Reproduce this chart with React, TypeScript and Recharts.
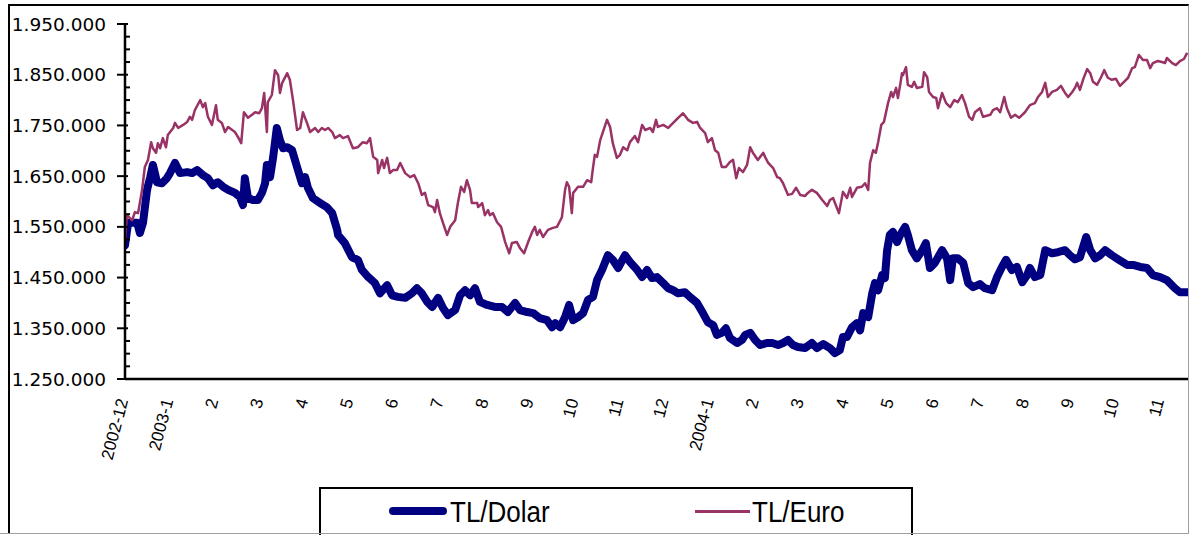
import React from 'react';
import { LineChart, Line, XAxis, YAxis } from 'recharts';

// Month tick labels (month index 0 = December 2002)
const monthLabels = [
  '2002-12', '2003-1', '2', '3', '4', '5', '6', '7', '8', '9', '10', '11', '12',
  '2004-1', '2', '3', '4', '5', '6', '7', '8', '9', '10', '11',
];

// TL/Dolar: position in months since 2002-12, rate in thousand TL
const dolarMonths = [
  0.00, 0.07, 0.16, 0.27, 0.33, 0.40, 0.49, 0.56, 0.62, 0.71, 0.82, 0.93, 1.00, 1.11, 1.22, 1.38, 1.49, 1.60, 1.73, 1.84,
  1.95, 2.06, 2.18, 2.29, 2.44, 2.55, 2.62, 2.66, 2.73, 2.84, 2.95, 3.04, 3.11, 3.15, 3.22, 3.29, 3.37, 3.44, 3.51, 3.60,
  3.71, 3.82, 3.93, 4.00, 4.06, 4.17, 4.33, 4.48, 4.60, 4.71, 4.73, 4.88, 5.04, 5.17, 5.26, 5.40, 5.55, 5.66, 5.82, 5.93,
  6.06, 6.22, 6.37, 6.48, 6.59, 6.71, 6.82, 6.95, 7.06, 7.17, 7.33, 7.44, 7.55, 7.66, 7.77, 7.88, 8.04, 8.21, 8.37, 8.50,
  8.66, 8.77, 8.93, 9.06, 9.21, 9.37, 9.48, 9.55, 9.66, 9.77, 9.86, 9.95, 10.06, 10.17, 10.28, 10.39, 10.48, 10.59, 10.72, 10.83,
  10.95, 11.10, 11.21, 11.37, 11.48, 11.59, 11.70, 11.81, 11.95, 12.06, 12.17, 12.28, 12.43, 12.54, 12.70, 12.83, 12.94, 13.06, 13.14, 13.25,
  13.34, 13.43, 13.59, 13.70, 13.77, 13.88, 13.99, 14.10, 14.25, 14.37, 14.50, 14.61, 14.72, 14.83, 14.94, 15.10, 15.25, 15.36, 15.50, 15.65,
  15.76, 15.87, 15.94, 16.03, 16.14, 16.25, 16.32, 16.39, 16.50, 16.59, 16.65, 16.72, 16.81, 16.87, 16.92, 16.98, 17.05, 17.14, 17.21, 17.32,
  17.38, 17.47, 17.58, 17.70, 17.78, 17.87, 17.98, 18.14, 18.25, 18.32, 18.38, 18.49, 18.61, 18.72, 18.83, 18.98, 19.09, 19.25, 19.36, 19.47,
  19.56, 19.69, 19.80, 19.92, 20.03, 20.09, 20.20, 20.32, 20.43, 20.58, 20.71, 20.87, 20.98, 21.09, 21.20, 21.34, 21.43, 21.54, 21.65, 21.76,
  21.91, 22.05, 22.25, 22.38, 22.54, 22.69, 22.82, 22.98, 23.13, 23.31, 23.42, 23.58,
];
const dolarValues = [
  1514, 1558, 1558, 1558, 1538, 1558, 1623, 1648, 1672, 1638, 1636, 1646, 1656, 1676, 1656, 1658, 1656, 1662, 1652, 1646,
  1632, 1638, 1629, 1623, 1617, 1609, 1593, 1646, 1607, 1603, 1603, 1617, 1636, 1672, 1648, 1688, 1745, 1721, 1705, 1707,
  1701, 1668, 1636, 1648, 1627, 1607, 1597, 1589, 1577, 1544, 1534, 1518, 1490, 1485, 1465, 1451, 1439, 1419, 1435, 1415,
  1412, 1410, 1419, 1429, 1419, 1402, 1392, 1410, 1390, 1376, 1386, 1415, 1425, 1415, 1429, 1402, 1396, 1392, 1392, 1382,
  1400, 1386, 1382, 1380, 1370, 1366, 1352, 1360, 1352, 1372, 1396, 1366, 1372, 1380, 1406, 1412, 1445, 1465, 1494, 1485,
  1469, 1494, 1481, 1465, 1451, 1465, 1449, 1451, 1439, 1429, 1425, 1419, 1421, 1412, 1400, 1380, 1362, 1356, 1337, 1341,
  1350, 1331, 1321, 1327, 1337, 1341, 1327, 1317, 1321, 1321, 1317, 1321, 1327, 1317, 1313, 1311, 1321, 1311, 1319, 1311,
  1301, 1307, 1333, 1333, 1352, 1360, 1346, 1380, 1372, 1419, 1439, 1425, 1455, 1449, 1504, 1534, 1540, 1520, 1534, 1550,
  1534, 1504, 1488, 1504, 1518, 1469, 1479, 1504, 1488, 1445, 1488, 1488, 1479, 1439, 1431, 1437, 1429, 1425, 1451, 1471,
  1485, 1465, 1471, 1441, 1455, 1469, 1451, 1455, 1504, 1498, 1500, 1504, 1494, 1486, 1490, 1530, 1504, 1488, 1494, 1504,
  1494, 1486, 1475, 1475, 1471, 1469, 1455, 1451, 1445, 1429, 1421, 1421,
];

// TL/Euro: position in months since 2002-12, rate in thousand TL
const euroMonths = [
  0.00, 0.04, 0.16, 0.22, 0.29, 0.38, 0.44, 0.51, 0.58, 0.62, 0.69, 0.73, 0.78, 0.84, 0.91, 0.95, 1.07, 1.11, 1.18, 1.29,
  1.38, 1.44, 1.49, 1.55, 1.67, 1.73, 1.78, 1.84, 1.93, 2.02, 2.06, 2.15, 2.22, 2.29, 2.38, 2.44, 2.51, 2.58, 2.64, 2.73,
  2.82, 2.89, 2.98, 3.04, 3.09, 3.15, 3.17, 3.26, 3.33, 3.40, 3.44, 3.49, 3.60, 3.66, 3.73, 3.82, 3.89, 3.95, 4.04, 4.11,
  4.22, 4.29, 4.37, 4.44, 4.51, 4.60, 4.66, 4.77, 4.84, 4.95, 5.06, 5.17, 5.28, 5.37, 5.44, 5.51, 5.60, 5.62, 5.71, 5.75,
  5.82, 5.88, 5.95, 6.04, 6.11, 6.22, 6.33, 6.42, 6.51, 6.59, 6.66, 6.73, 6.84, 6.88, 6.93, 6.99, 7.06, 7.15, 7.22, 7.33,
  7.39, 7.46, 7.53, 7.59, 7.66, 7.70, 7.82, 7.84, 7.93, 7.99, 8.06, 8.10, 8.17, 8.26, 8.35, 8.44, 8.53, 8.59, 8.70, 8.77,
  8.86, 8.95, 9.04, 9.10, 9.15, 9.21, 9.28, 9.39, 9.50, 9.59, 9.70, 9.77, 9.81, 9.86, 9.92, 9.95, 10.06, 10.17, 10.26, 10.35,
  10.39, 10.43, 10.48, 10.55, 10.61, 10.70, 10.77, 10.83, 10.92, 10.99, 11.06, 11.15, 11.21, 11.32, 11.39, 11.48, 11.55, 11.66, 11.72, 11.79,
  11.83, 11.95, 12.06, 12.17, 12.28, 12.39, 12.50, 12.61, 12.70, 12.77, 12.88, 12.94, 13.03, 13.10, 13.17, 13.25, 13.34, 13.43, 13.50, 13.57,
  13.63, 13.72, 13.81, 13.88, 13.94, 14.05, 14.17, 14.21, 14.28, 14.39, 14.48, 14.54, 14.61, 14.72, 14.81, 14.90, 14.99, 15.10, 15.16, 15.25,
  15.36, 15.48, 15.59, 15.65, 15.72, 15.85, 15.94, 16.03, 16.10, 16.14, 16.25, 16.36, 16.43, 16.50, 16.54, 16.61, 16.67, 16.72, 16.79, 16.85,
  16.94, 17.01, 17.05, 17.12, 17.16, 17.21, 17.25, 17.27, 17.34, 17.38, 17.47, 17.52, 17.58, 17.70, 17.74, 17.81, 17.85, 17.94, 18.01, 18.05,
  18.14, 18.23, 18.32, 18.41, 18.49, 18.58, 18.65, 18.74, 18.81, 18.87, 18.98, 19.05, 19.21, 19.27, 19.36, 19.43, 19.52, 19.58, 19.67, 19.76,
  19.85, 19.98, 20.09, 20.20, 20.27, 20.36, 20.43, 20.49, 20.58, 20.69, 20.78, 20.87, 20.94, 21.03, 21.09, 21.14, 21.20, 21.27, 21.36, 21.43,
  21.49, 21.58, 21.67, 21.74, 21.82, 21.91, 22.00, 22.09, 22.18, 22.27, 22.36, 22.42, 22.51, 22.60, 22.69, 22.76, 22.82, 22.93, 23.02, 23.09,
  23.13, 23.25, 23.33, 23.42, 23.51, 23.58,
];
const euroValues = [
  1520, 1573, 1563, 1579, 1577, 1623, 1668, 1682, 1717, 1705, 1696, 1715, 1705, 1725, 1707, 1731, 1745, 1755, 1745, 1751,
  1757, 1767, 1761, 1780, 1800, 1786, 1794, 1767, 1751, 1790, 1761, 1755, 1737, 1747, 1741, 1737, 1727, 1715, 1776, 1765,
  1771, 1776, 1774, 1784, 1814, 1737, 1796, 1810, 1859, 1849, 1814, 1834, 1853, 1840, 1800, 1741, 1745, 1776, 1755, 1737,
  1745, 1737, 1745, 1741, 1745, 1737, 1725, 1731, 1725, 1729, 1705, 1707, 1717, 1715, 1725, 1688, 1682, 1656, 1682, 1666,
  1686, 1656, 1662, 1662, 1676, 1656, 1648, 1652, 1636, 1613, 1617, 1593, 1589, 1579, 1603, 1577, 1558, 1534, 1550, 1563,
  1597, 1629, 1619, 1642, 1623, 1597, 1597, 1589, 1597, 1573, 1583, 1573, 1577, 1559, 1550, 1520, 1498, 1518, 1520, 1508,
  1498, 1520, 1540, 1550, 1534, 1544, 1530, 1544, 1548, 1550, 1569, 1623, 1638, 1629, 1577, 1617, 1629, 1629, 1642, 1638,
  1666, 1692, 1688, 1721, 1737, 1761, 1747, 1715, 1686, 1692, 1707, 1701, 1717, 1729, 1717, 1751, 1741, 1745, 1737, 1761,
  1747, 1751, 1745, 1755, 1765, 1774, 1761, 1755, 1757, 1745, 1735, 1717, 1725, 1701, 1696, 1668, 1668, 1678, 1682, 1646,
  1666, 1658, 1672, 1707, 1696, 1682, 1696, 1688, 1676, 1666, 1648, 1646, 1636, 1613, 1615, 1627, 1613, 1611, 1617, 1623,
  1617, 1603, 1591, 1603, 1607, 1577, 1619, 1607, 1627, 1609, 1627, 1629, 1636, 1623, 1676, 1701, 1696, 1717, 1751, 1757,
  1794, 1816, 1806, 1824, 1804, 1830, 1853, 1849, 1865, 1830, 1826, 1836, 1824, 1826, 1855, 1845, 1816, 1806, 1804, 1784,
  1814, 1794, 1786, 1800, 1796, 1810, 1794, 1767, 1761, 1776, 1784, 1767, 1771, 1780, 1784, 1776, 1806, 1784, 1765, 1771,
  1765, 1776, 1790, 1794, 1806, 1816, 1834, 1806, 1816, 1820, 1828, 1814, 1806, 1816, 1824, 1834, 1820, 1840, 1861, 1853,
  1836, 1830, 1845, 1859, 1844, 1840, 1842, 1828, 1836, 1844, 1863, 1865, 1889, 1879, 1879, 1863, 1873, 1877, 1875, 1873,
  1883, 1873, 1869, 1877, 1881, 1893,
];

const yTicks: number[] = [];
for (let v = 1250000; v <= 1950000; v += 25000) yTicks.push(v);
const xTicks = monthLabels.map((_, i) => i);

const dolarData = dolarMonths.map((m, i) => ({ m, v: dolarValues[i] * 1000 }));
const euroData = euroMonths.map((m, i) => ({ m, v: euroValues[i] * 1000 }));

const fmt = (v: number) => String(Math.round(v)).replace(/\B(?=(\d{3})+(?!\d))/g, '.');

const YTick = (props: any) => {
  const { x, y, payload } = props;
  const major = payload.value % 100000 === 50000;
  if (!major) {
    return <line x1={x} x2={x + 5} y1={y} y2={y} stroke="#000" strokeWidth={2} />;
  }
  return (
    <g>
      <line x1={x - 8} x2={x + 3} y1={y} y2={y} stroke="#000" strokeWidth={2} />
      <text x={x - 19} y={y} textAnchor="end" dominantBaseline="central" fontFamily="DejaVu Sans" fontSize={18.5} fill="#000">
        {fmt(payload.value)}
      </text>
    </g>
  );
};

const XTick = (props: any) => {
  const { x, y, payload } = props;
  const label = monthLabels[payload.value] ?? '';
  const ax = x - 2;
  const ay = y + 20;
  return (
    <text x={ax} y={ay} transform={`rotate(-75, ${ax}, ${ay})`} textAnchor="end" dominantBaseline="central"
      fontFamily="Liberation Sans, Arial" fontSize={17} fill="#000">
      {label}
    </text>
  );
};

export default function App() {
  return (
    <div style={{ position: 'absolute', left: 0, top: 0, width: 1189, height: 535, overflow: 'hidden', background: '#fff' }}>
      <div style={{ position: 'absolute', left: 0, top: 0 }}>
        <LineChart width={1189} height={535} margin={{ top: 24, right: 1, left: 0, bottom: 96 }}>
          <XAxis type="number" dataKey="m" domain={[0, 23.6]} ticks={xTicks} interval={0} allowDataOverflow
            tickLine={false} tickSize={0} tickMargin={0} height={60}
            axisLine={{ stroke: '#000', strokeWidth: 2.5 }} tick={<XTick />} />
          <YAxis type="number" domain={[1250000, 1950000]} ticks={yTicks} interval={0} allowDataOverflow
            tickLine={false} tickSize={0} tickMargin={0} width={125}
            axisLine={{ stroke: '#000', strokeWidth: 2.5 }} tick={<YTick />} />
          <Line data={dolarData} dataKey="v" type="linear" stroke="#000080" strokeWidth={8}
            strokeLinejoin="round" strokeLinecap="round" dot={false} activeDot={false} isAnimationActive={false} />
          <Line data={euroData} dataKey="v" type="linear" stroke="#993366" strokeWidth={2.5}
            strokeLinejoin="round" dot={false} activeDot={false} isAnimationActive={false} />
        </LineChart>
      </div>
      <div style={{ position: 'absolute', left: 8, top: 4, width: 1181, height: 530, boxSizing: 'border-box',
        borderLeft: '2px solid #000', borderTop: '2px solid #000', borderRight: '1px solid #a0a0a0', borderBottom: '1px solid #a0a0a0',
        pointerEvents: 'none' }} />
      <div style={{ position: 'absolute', left: 319, top: 487, width: 594, height: 60, boxSizing: 'border-box',
        border: '2px solid #000', background: '#fff' }}>
        <div style={{ position: 'absolute', left: 68, top: 18, width: 58, height: 8, borderRadius: 4, background: '#000080' }} />
        <div style={{ position: 'absolute', left: 129, top: 5, fontFamily: 'Liberation Sans, Arial', fontSize: 26,
          lineHeight: '36px', transform: 'scaleY(1.15)', transformOrigin: 'left center', color: '#000' }}>TL/Dolar</div>
        <div style={{ position: 'absolute', left: 374, top: 21, width: 55, height: 3, background: '#993366' }} />
        <div style={{ position: 'absolute', left: 431, top: 5, fontFamily: 'Liberation Sans, Arial', fontSize: 26,
          lineHeight: '36px', transform: 'scaleY(1.15)', transformOrigin: 'left center', color: '#000' }}>TL/Euro</div>
      </div>
      <div style={{ position: 'absolute', left: 0, top: 533, width: 1189, height: 1, background: '#a0a0a0' }} />
    </div>
  );
}
